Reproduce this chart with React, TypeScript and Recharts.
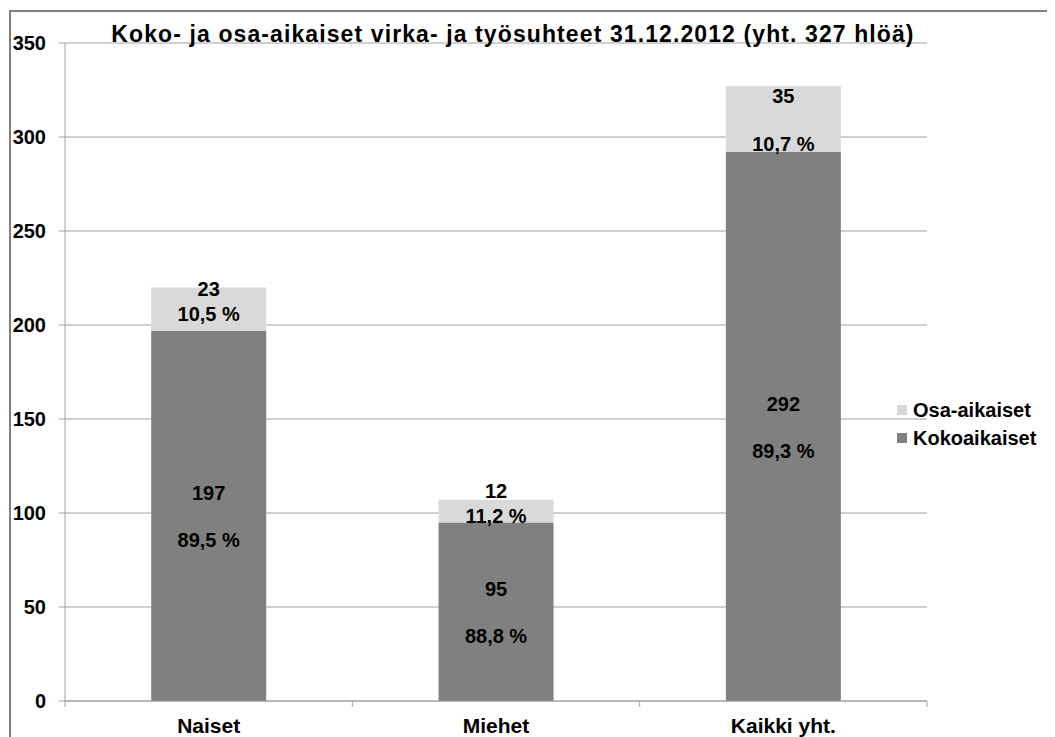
import React from "react";
import { BarChart, Bar, XAxis, YAxis, CartesianGrid, LabelList, Legend } from "recharts";

const categories = ["Naiset", "Miehet", "Kaikki yht."];
const kokoaikaiset = [197, 95, 292];
const osaaikaiset = [23, 12, 35];
const kokoPct = ["89,5 %", "88,8 %", "89,3 %"];
const osaPct = ["10,5 %", "11,2 %", "10,7 %"];
const yTicks = [0, 50, 100, 150, 200, 250, 300, 350];
const seriesNames = { koko: "Kokoaikaiset", osa: "Osa-aikaiset" };
const title = "Koko- ja osa-aikaiset virka- ja työsuhteet 31.12.2012 (yht. 327 hlöä)";

const COLORS = { koko: "#808080", osa: "#d9d9d9" };
const FONT = "'Liberation Sans', Arial, sans-serif";
const AXIS = "#a0a0a0";

const data = categories.map((c, i) => ({
  name: c,
  koko: kokoaikaiset[i],
  osa: osaaikaiset[i],
  kokoLabel: `${kokoaikaiset[i]}|${kokoPct[i]}`,
  osaLabel: `${osaaikaiset[i]}|${osaPct[i]}`,
}));

const txt = (x: number, y: number, s: string, key: string) => (
  <text
    key={key}
    x={x}
    y={y}
    dy="0.36em"
    textAnchor="middle"
    fontFamily={FONT}
    fontWeight="bold"
    fontSize={20}
    fill="#000"
  >
    {s}
  </text>
);

const getBox = (props: any) => {
  const vb = props.viewBox || {};
  const x = Number(props.x ?? vb.x);
  const y = Number(props.y ?? vb.y);
  const width = Number(props.width ?? vb.width);
  const height = Number(props.height ?? vb.height);
  return { x, y, width, height };
};

const KokoLabel = (props: any) => {
  const { x, y, width, height } = getBox(props);
  const [num, pct] = String(props.value).split("|");
  const cx = x + width / 2;
  const cy = y + height / 2;
  return (
    <g>
      {txt(cx, cy - 23, num, "n")}
      {txt(cx, cy + 24, pct, "p")}
    </g>
  );
};

const OsaLabel = (props: any) => {
  const { x, y, width, height } = getBox(props);
  const [num, pct] = String(props.value).split("|");
  const cx = x + width / 2;
  const cy = y + height / 2;
  let ny: number, py: number;
  if (height < 50) {
    ny = cy - 20;
    py = cy + 5;
  } else {
    ny = y + 10;
    py = y + height - 8;
  }
  return (
    <g>
      {txt(cx, ny, num, "n")}
      {txt(cx, py, pct, "p")}
    </g>
  );
};

const CategoryTick = (props: any) => {
  const { x, y, payload, index, visibleTicksCount } = props;
  const off = Number(payload?.offset ?? 0);
  const last = index === (visibleTicksCount ?? categories.length) - 1;
  return (
    <g>
      <line x1={x - off} x2={x - off} y1={y} y2={y + 6} stroke={AXIS} />
      {last && <line x1={x + off} x2={x + off} y1={y} y2={y + 6} stroke={AXIS} />}
      <text x={x} y={y + 32} textAnchor="middle" fontFamily={FONT} fontWeight="bold" fontSize={21} fill="#000">
        {payload.value}
      </text>
    </g>
  );
};

const LegendContent = () => {
  const rows = [
    { name: seriesNames.osa, color: COLORS.osa },
    { name: seriesNames.koko, color: COLORS.koko },
  ];
  return (
    <div style={{ fontFamily: FONT, fontWeight: "bold", fontSize: 20 }}>
      {rows.map((r) => (
        <div key={r.name} style={{ display: "flex", alignItems: "center", height: 28, whiteSpace: "nowrap" }}>
          <span style={{ display: "inline-block", width: 10, height: 10, background: r.color, marginRight: 6 }} />
          <span style={{ color: "#000" }}>{r.name}</span>
        </div>
      ))}
    </div>
  );
};

export default function App() {
  return (
    <div style={{ position: "relative", width: 1047, height: 729, background: "#fff" }}>
      <div
        style={{
          position: "absolute",
          left: 1,
          top: 2,
          width: 1046,
          height: 727,
          boxSizing: "border-box",
          borderTop: "2px solid #808080",
          borderLeft: "2px solid #808080",
        }}
      />
      <BarChart
        width={1047}
        height={729}
        data={data}
        margin={{ top: 35, right: 128, bottom: 0, left: 0 }}
        barCategoryGap="30%"
      >
        <CartesianGrid vertical={false} stroke={AXIS} />
        <XAxis
          dataKey="name"
          height={36}
          tickLine={false}
          tickSize={0}
          tickMargin={0}
          interval={0}
          axisLine={{ stroke: AXIS }}
          tick={<CategoryTick />}
        />
        <YAxis
          width={57}
          domain={[0, 350]}
          ticks={yTicks}
          interval={0}
          tickSize={6}
          tickMargin={13}
          axisLine={{ stroke: AXIS }}
          tickLine={{ stroke: AXIS }}
          tick={{ fontFamily: FONT, fontWeight: "bold", fontSize: 20, fill: "#000" }}
        />
        <Legend
          layout="vertical"
          align="center"
          verticalAlign="middle"
          content={<LegendContent />}
          wrapperStyle={{ left: 889, top: 388, width: "auto", height: "auto" }}
        />
        <Bar dataKey="koko" name={seriesNames.koko} stackId="a" fill={COLORS.koko} isAnimationActive={false}>
          <LabelList dataKey="kokoLabel" content={<KokoLabel />} />
        </Bar>
        <Bar dataKey="osa" name={seriesNames.osa} stackId="a" fill={COLORS.osa} isAnimationActive={false}>
          <LabelList dataKey="osaLabel" content={<OsaLabel />} />
        </Bar>
      </BarChart>
      <div
        style={{
          position: "absolute",
          left: 5,
          top: 15,
          width: 1000,
          textAlign: "center",
          fontFamily: FONT,
          fontWeight: "bold",
          fontSize: 23,
          letterSpacing: "1.1px",
          lineHeight: "23px",
          color: "#000",
          whiteSpace: "nowrap",
        }}
      >
        {title}
      </div>
    </div>
  );
}
